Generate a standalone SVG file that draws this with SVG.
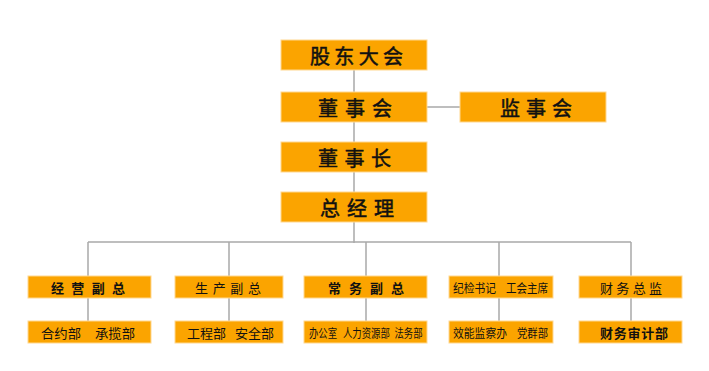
<svg xmlns="http://www.w3.org/2000/svg" width="709" height="371" viewBox="0 0 709 371">
<style>
.box{fill:#FBA400;stroke:#FFD890;stroke-width:1}
.t{font-family:"Noto Sans CJK SC","Noto Sans CJK JP",sans-serif;fill:#111;text-anchor:middle;dominant-baseline:central}
.s{text-anchor:start}
.big{font-size:20px;stroke:#111;stroke-width:0.5}
.sm{font-size:13px}
.xs{font-size:12px}
.b{font-weight:bold}
.ln{stroke:#A8A8A8;stroke-width:1.5;fill:none}
</style>
<rect width="709" height="371" fill="#fff"/>
<g id="connectors">
<line class="ln" x1="354" y1="70" x2="354" y2="243"/>
<line class="ln" x1="427" y1="107" x2="460" y2="107"/>
<line class="ln" x1="88" y1="242" x2="631" y2="242"/>
<line class="ln" x1="88" y1="242" x2="88" y2="321"/>
<line class="ln" x1="229" y1="242" x2="229" y2="321"/>
<line class="ln" x1="366" y1="242" x2="366" y2="321"/>
<line class="ln" x1="499" y1="242" x2="499" y2="321"/>
<line class="ln" x1="631" y1="242" x2="631" y2="321"/>
</g>
<g id="n1"><rect class="box" x="281" y="40" width="146" height="30"/><text class="t big" x="356.5" y="55" textLength="93" lengthAdjust="spacing">股东大会</text></g>
<g id="n2"><rect class="box" x="281" y="92" width="146" height="30"/><text class="t big" x="355" y="107" textLength="74" lengthAdjust="spacing">董事会</text></g>
<g id="n3"><rect class="box" x="460" y="92" width="146" height="30"/><text class="t big" x="536" y="107" textLength="72" lengthAdjust="spacing">监事会</text></g>
<g id="n4"><rect class="box" x="281" y="142" width="146" height="30"/><text class="t big" x="354.5" y="157" textLength="73" lengthAdjust="spacing">董事长</text></g>
<g id="n5"><rect class="box" x="281" y="192" width="146" height="30"/><text class="t big" x="357" y="207" textLength="74" lengthAdjust="spacing">总经理</text></g>

<g id="n6"><rect class="box" x="28" y="276" width="123" height="22"/><text class="t sm b" x="88" y="287" textLength="74" lengthAdjust="spacing">经营副总</text></g>
<g id="n7"><rect class="box" x="28" y="321" width="123" height="22"/>
<text class="t sm s" x="41" y="332" textLength="40" lengthAdjust="spacingAndGlyphs">合约部</text>
<text class="t sm s" x="95" y="332" textLength="40" lengthAdjust="spacingAndGlyphs">承揽部</text></g>
<g id="n8"><rect class="box" x="175" y="276" width="108" height="22"/><text class="t sm" x="228" y="287" textLength="66" lengthAdjust="spacing">生产副总</text></g>
<g id="n9"><rect class="box" x="175" y="321" width="108" height="22"/>
<text class="t sm s" x="187" y="332" textLength="39" lengthAdjust="spacingAndGlyphs">工程部</text>
<text class="t sm s" x="235" y="332" textLength="39" lengthAdjust="spacingAndGlyphs">安全部</text></g>
<g id="n10"><rect class="box" x="304" y="276" width="123" height="22"/><text class="t sm b" x="366" y="287" textLength="76" lengthAdjust="spacing">常务副总</text></g>
<g id="n11"><rect class="box" x="304" y="321" width="123" height="22"/>
<text class="t xs s" transform="translate(309,333) scale(0.78,1)" x="0" y="0">办公室</text>
<text class="t xs s" transform="translate(343,333) scale(0.78,1)" x="0" y="0">人力资源部</text>
<text class="t xs s" transform="translate(394.5,333) scale(0.78,1)" x="0" y="0">法务部</text></g>
<g id="n12"><rect class="box" x="449" y="276" width="104" height="22"/>
<text class="t xs s" x="453" y="287" textLength="43" lengthAdjust="spacingAndGlyphs">纪检书记</text>
<text class="t xs s" x="506" y="287" textLength="42" lengthAdjust="spacingAndGlyphs">工会主席</text></g>
<g id="n13"><rect class="box" x="449" y="321" width="104" height="22"/>
<text class="t xs s" x="453" y="332" textLength="54" lengthAdjust="spacingAndGlyphs">效能监察办</text>
<text class="t xs s" x="517" y="332" textLength="31" lengthAdjust="spacingAndGlyphs">党群部</text></g>
<g id="n14"><rect class="box" x="579" y="276" width="103" height="22"/><text class="t sm" x="631" y="287" textLength="62" lengthAdjust="spacing">财务总监</text></g>
<g id="n15"><rect class="box" x="579" y="321" width="103" height="22"/><text class="t sm b" x="634" y="332" textLength="68" lengthAdjust="spacing">财务审计部</text></g>
</svg>
